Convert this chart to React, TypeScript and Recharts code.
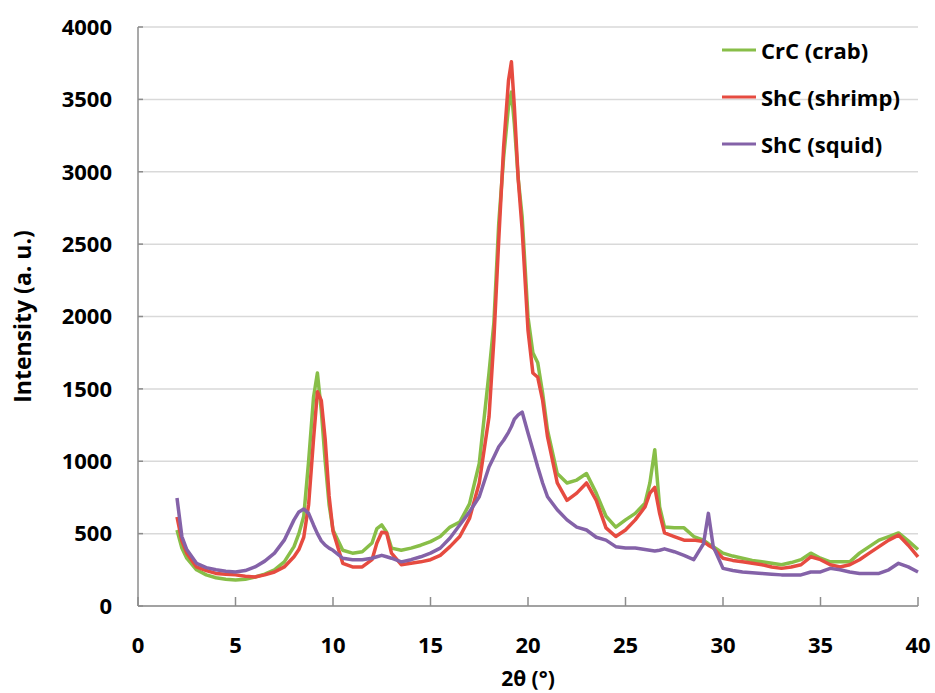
import React from "react";
import { LineChart, Line, XAxis, YAxis, CartesianGrid, Legend, Label } from "recharts";

// 2θ positions (degrees)
const twoTheta = [
  2, 2.25, 2.5, 3, 3.5, 4, 4.5, 5, 5.5, 6,
  6.5, 7, 7.5, 8, 8.25, 8.5, 8.75, 9, 9.2, 9.4,
  9.6, 9.8, 10, 10.5, 11, 11.5, 12, 12.25, 12.5, 12.75,
  13, 13.5, 14, 14.5, 15, 15.5, 16, 16.5, 17, 17.5,
  18, 18.25, 18.5, 18.75, 19, 19.15, 19.3, 19.5, 19.7, 20,
  20.25, 20.5, 20.75, 21, 21.5, 22, 22.5, 23, 23.5, 24,
  24.5, 25, 25.5, 26, 26.25, 26.5, 26.75, 27, 27.5, 28,
  28.5, 29, 29.25, 29.5, 30, 30.5, 31, 31.5, 32, 32.5,
  33, 33.5, 34, 34.5, 35, 35.5, 36, 36.5, 37, 37.5,
  38, 38.5, 39, 39.5, 40,
];

const crab = [
  525, 400, 330, 250, 215, 195, 185, 180, 185, 200,
  220, 250, 305, 410, 500, 620, 1000, 1440, 1610, 1350,
  1000, 700, 525, 385, 365, 375, 435, 535, 560, 510,
  400, 385, 400, 420, 445, 480, 545, 580, 705, 985,
  1610, 1955, 2645, 3100, 3450, 3550, 3330, 2950, 2690, 1995,
  1750, 1680, 1470, 1215, 915, 850, 870, 915, 780, 620,
  545, 595, 640, 710, 850, 1080, 685, 545, 540, 540,
  480, 455, 430, 410, 365, 345, 330, 315, 305, 295,
  285, 300, 320, 365, 330, 305, 305, 305, 365, 410,
  455, 480, 505, 450, 390,
];

const shrimp = [
  615, 450, 365, 270, 245, 225, 220, 215, 205, 200,
  215, 235, 270, 340, 390, 475, 700, 1150, 1480, 1420,
  1150, 760, 517, 295, 270, 270, 320, 435, 510, 505,
  365, 285, 295, 305, 320, 350, 410, 480, 605, 850,
  1305, 1840, 2530, 3170, 3630, 3760, 3450, 2945, 2600, 1905,
  1610, 1580, 1420, 1170, 850, 730, 780, 850, 730, 540,
  480, 525, 595, 685, 780, 820, 640, 505, 480, 455,
  455, 445, 420, 400, 330, 315, 305, 295, 285, 270,
  260, 270, 285, 340, 320, 285, 270, 285, 320, 365,
  410, 455, 490, 420, 340,
];

const squid = [
  746, 480, 390, 295, 265, 250, 240, 235, 245, 270,
  310, 365, 455, 595, 650, 670, 640, 560, 500, 450,
  420, 400, 385, 330, 320, 320, 330, 340, 350, 340,
  330, 305, 320, 340, 365, 400, 470, 560, 650, 755,
  960, 1030, 1100, 1145, 1200, 1240, 1290, 1320, 1340, 1195,
  1080, 960, 850, 755, 665, 595, 545, 525, 475, 455,
  410, 400, 400, 390, 385, 380, 385, 395, 375, 350,
  320, 430, 640, 410, 260, 245, 235, 230, 225, 220,
  215, 215, 215, 235, 235, 260, 250, 235, 225, 225,
  225, 250, 295, 270, 235,
];

const xTicks = [0, 5, 10, 15, 20, 25, 30, 35, 40];
const yTicks = [0, 500, 1000, 1500, 2000, 2500, 3000, 3500, 4000];

const series = [
  { key: "crab", name: "CrC (crab)", color: "#88BE48" },
  { key: "shrimp", name: "ShC (shrimp)", color: "#E64B40" },
  { key: "squid", name: "ShC (squid)", color: "#8462A8" },
];

const data = twoTheta.map((x, i) => ({ x, crab: crab[i], shrimp: shrimp[i], squid: squid[i] }));

const FONT = "'Open Sans', sans-serif";
const tickStyle = { fontSize: 22, fontWeight: 700, fill: "#000", fontFamily: FONT };

const renderLegend = () => (
  <div style={{ fontFamily: FONT, fontWeight: 700, fontSize: 22, color: "#000" }}>
    {series.map((s) => (
      <div key={s.key} style={{ display: "flex", alignItems: "center", height: 47 }}>
        <svg width={36} height={4} style={{ marginRight: 3 }}>
          <line x1={0} y1={2} x2={34} y2={2} stroke={s.color} strokeWidth={3} />
        </svg>
        <span>{s.name}</span>
      </div>
    ))}
  </div>
);

export default function App() {
  return (
    <div style={{ position: "absolute", left: 0, top: 0, width: 935, height: 693, background: "#fff" }}>
      <LineChart width={935} height={693} data={data} margin={{ top: 27, right: 17, bottom: 0, left: 0 }}>
        <CartesianGrid vertical={false} stroke="#D9D9D9" strokeWidth={1.5} />
        <XAxis
          dataKey="x"
          type="number"
          domain={[0, 40]}
          ticks={xTicks}
          height={87}
          stroke="#8C8C8C"
          strokeWidth={1.5}
          tickSize={-9}
          tickMargin={40}
          tick={tickStyle}
          interval={0}
        >
          <Label
            content={({ viewBox }: any) => (
              <text
                x={viewBox.x + viewBox.width / 2}
                y={678}
                textAnchor="middle"
                dominantBaseline="central"
                style={{ fontFamily: FONT, fontWeight: 700, fontSize: 21, fill: "#000" }}
              >
                2θ (°)
              </text>
            )}
          />
        </XAxis>
        <YAxis
          type="number"
          domain={[0, 4000]}
          ticks={yTicks}
          width={138}
          stroke="#8C8C8C"
          strokeWidth={1.5}
          tickSize={-5}
          tickMargin={31}
          tick={tickStyle}
          interval={0}
        >
          <Label
            content={({ viewBox }: any) => {
              const cy = viewBox.y + viewBox.height / 2;
              return (
                <text
                  x={22}
                  y={cy}
                  transform={`rotate(-90, 22, ${cy})`}
                  textAnchor="middle"
                  dominantBaseline="central"
                  style={{ fontFamily: FONT, fontWeight: 700, fontSize: 23, fill: "#000" }}
                >
                  Intensity (a. u.)
                </text>
              );
            }}
          />
        </YAxis>
        <Legend
          layout="vertical"
          align="center"
          verticalAlign="middle"
          content={renderLegend}
          wrapperStyle={{ top: 26, left: 722, width: 210 }}
        />
        {series.map((s) => (
          <Line
            key={s.key}
            type="linear"
            dataKey={s.key}
            name={s.name}
            stroke={s.color}
            strokeWidth={3.5}
            strokeLinejoin="round"
            dot={false}
            isAnimationActive={false}
          />
        ))}
      </LineChart>
    </div>
  );
}
